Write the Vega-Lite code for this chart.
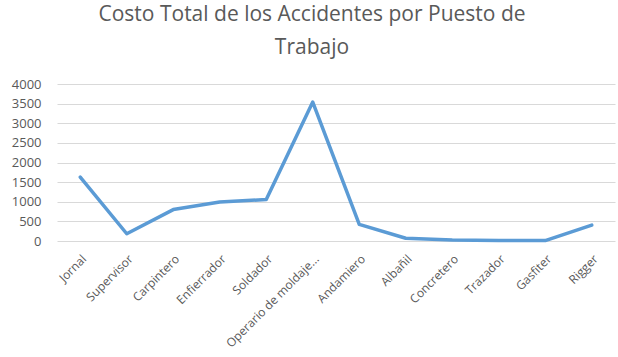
{
  "$schema": "https://vega.github.io/schema/vega-lite/v6.json",
  "width": 558,
  "height": 157,
  "autosize": "none",
  "padding": {"left": 57, "top": 84, "right": 3, "bottom": 116},
  "background": "white",
  "title": {
    "text": ["Costo Total de los Accidentes por Puesto de", "Trabajo"],
    "font": "Open Sans",
    "fontSize": 21,
    "fontWeight": "normal",
    "color": "#595959",
    "anchor": "middle",
    "dx": -24,
    "offset": 20,
    "lineHeight": 33
  },
  "data": {
    "values": [
      {"puesto": "Jornal", "costo": 1630},
      {"puesto": "Supervisor", "costo": 185},
      {"puesto": "Carpintero", "costo": 800},
      {"puesto": "Enfierrador", "costo": 995},
      {"puesto": "Soldador", "costo": 1055},
      {"puesto": "Operario de moldaje...", "costo": 3540},
      {"puesto": "Andamiero", "costo": 425},
      {"puesto": "Albañil", "costo": 70},
      {"puesto": "Concretero", "costo": 25},
      {"puesto": "Trazador", "costo": 10},
      {"puesto": "Gasfiter", "costo": 10},
      {"puesto": "Rigger", "costo": 405}
    ]
  },
  "mark": {"type": "line", "color": "#5B9BD5", "strokeWidth": 3.5, "strokeCap": "round", "strokeJoin": "round"},
  "encoding": {
    "x": {
      "field": "puesto",
      "type": "nominal",
      "sort": null,
      "scale": {"type": "point", "padding": 0.5},
      "axis": {
        "title": null,
        "labelAngle": -45,
        "labelFont": "Open Sans",
        "labelFontSize": 12,
        "labelColor": "#595959",
        "domain": false,
        "ticks": false,
        "grid": false,
        "labelPadding": 12
      }
    },
    "y": {
      "field": "costo",
      "type": "quantitative",
      "scale": {"domain": [0, 4000]},
      "axis": {
        "title": null,
        "values": [0, 500, 1000, 1500, 2000, 2500, 3000, 3500, 4000],
        "format": "d",
        "labelFont": "Open Sans",
        "labelFontSize": 13,
        "labelColor": "#595959",
        "domain": false,
        "ticks": false,
        "gridColor": "#D9D9D9",
        "gridWidth": 1,
        "labelPadding": 16
      }
    }
  },
  "config": {"view": {"stroke": null}}
}
